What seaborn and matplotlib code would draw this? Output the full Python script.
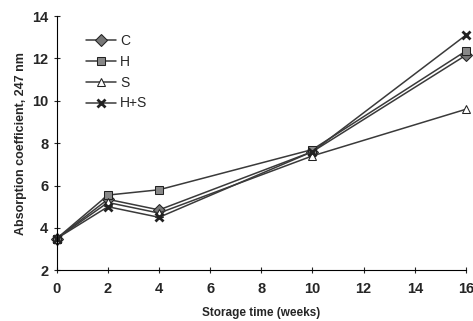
import matplotlib
matplotlib.use("Agg")
import matplotlib.pyplot as plt
import seaborn as sns
import pandas as pd

# ── Data ─────────────────────────────────────────────────────────────────────
weeks = [0, 2, 4, 10, 16]
treatments = ["C", "H", "S", "H+S"]
c_vals = [3.5, 5.35, 4.85, 7.6, 12.15]
h_vals = [3.5, 5.55, 5.8, 7.7, 12.35]
s_vals = [3.5, 5.2, 4.7, 7.4, 9.6]
hs_vals = [3.5, 5.0, 4.5, 7.6, 13.1]

df = pd.DataFrame({
    "week": weeks * 4,
    "value": c_vals + h_vals + s_vals + hs_vals,
    "group": [t for t in treatments for _ in weeks],
})

sns.set_style("ticks")
plt.rcParams["font.family"] = ["Liberation Sans", "DejaVu Sans"]

fig = plt.figure(figsize=(4.73, 3.21), dpi=100)
ax = fig.add_axes([0.12, 0.158, 0.865, 0.792])

markers = {"C": "D", "H": "s", "S": "^", "H+S": "X"}
sns.lineplot(data=df, x="week", y="value", hue="group", style="group",
             markers=markers, dashes=False,
             palette={t: "#3a3a3a" for t in treatments},
             lw=1.1, markersize=6, ax=ax)


def style_marker(line, t):
    if t == "C":
        line.set_markerfacecolor("#777777")
    elif t == "H":
        line.set_markerfacecolor("#888888")
    elif t == "S":
        line.set_markerfacecolor("white")
    else:
        line.set_marker("x")
        line.set_markeredgewidth(2)
    line.set_markeredgecolor("#222222")


for line, t in zip(ax.lines, treatments):
    style_marker(line, t)
    line.set_clip_on(False)

ax.set_xlim(0, 16)
ax.set_ylim(2, 14)
ax.set_xticks(range(0, 17, 2))
ax.set_yticks(range(2, 15, 2))
ax.tick_params(labelsize=10.5, length=5, width=0.8, direction="inout")
ax.tick_params(axis="x", pad=6)
for lab in ax.get_xticklabels() + ax.get_yticklabels():
    lab.set_fontweight("bold")
ax.set_xlabel("Storage time (weeks)", fontsize=8.5, fontweight="bold", labelpad=8)
ax.set_ylabel("Absorption coefficient, 247 nm", fontsize=9, fontweight="bold",
              labelpad=4)
sns.despine(ax=ax)
ax.spines["left"].set_color("black")
ax.spines["bottom"].set_color("black")

leg = ax.legend(title=None, frameon=False, loc="upper left",
                bbox_to_anchor=(0.04, 0.98), fontsize=10,
                handlelength=2.2, labelspacing=0.5, handletextpad=0.3)
for h, t in zip(leg.legend_handles, treatments):
    h.set_color("#3a3a3a")
    style_marker(h, t)

fig.savefig("out.png", dpi=100)
